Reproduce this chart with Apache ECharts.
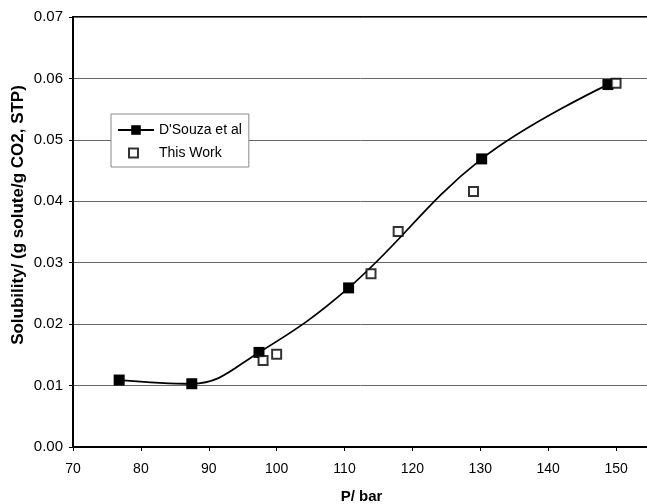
<!DOCTYPE html>
<html>
<head>
<meta charset="utf-8">
<script src="https://cdn.jsdelivr.net/npm/echarts@6/dist/echarts.min.js"></script>
<style>html,body{margin:0;padding:0;background:#fff;}#c{width:647px;height:504px;}</style>
</head>
<body>
<div id="c"></div>
<script>
const dsouzaP = [76.8, 87.5, 97.4, 110.6, 130.2, 148.8];
const dsouzaS = [0.0109, 0.0103, 0.0154, 0.0259, 0.0469, 0.0590];
const thisWorkP = [98.0, 100.0, 113.9, 117.9, 129.0, 150.0];
const thisWorkS = [0.0141, 0.0151, 0.0282, 0.0351, 0.0416, 0.0592];
const xTicks = [70, 80, 90, 100, 110, 120, 130, 140, 150];
const yTicks = [0, 0.01, 0.02, 0.03, 0.04, 0.05, 0.06, 0.07];

const font = 'Liberation Sans, Arial, sans-serif';
const chart = echarts.init(document.getElementById('c'), null, {renderer: 'canvas'});
chart.setOption({
  animation: false,
  backgroundColor: '#fff',
  textStyle: {fontFamily: font, color: '#000'},
  grid: {left: 73, top: 17, right: -3, bottom: 57, show: true, borderColor: '#000', borderWidth: 2,
    backgroundColor: 'transparent', containLabel: false, outerBoundsMode: 'none'},
  legend: {
    orient: 'vertical', left: 111, top: 114,
    backgroundColor: '#fff', borderColor: '#888', borderWidth: 1,
    padding: [9, 7, 7, 6], itemGap: 9, itemWidth: 36, itemHeight: 12,
    textStyle: {fontFamily: font, fontSize: 14, color: '#000'},
    data: [
      {name: "D'Souza et al"},
      {name: 'This Work', icon: 'path://M0,0L0,0M36,12L36,12M11,1.5L20,1.5L20,10.5L11,10.5Z',
       itemStyle: {color: '#fff', borderColor: '#000', borderWidth: 2}}
    ]
  },
  xAxis: {
    type: 'value', min: 70, max: 155, interval: 10,
    name: 'P/ bar', nameLocation: 'middle', nameGap: 42, nameMoveOverlap: false,
    nameTextStyle: {fontFamily: font, fontSize: 15, fontWeight: 'bold', color: '#000'},
    axisLine: {show: true, onZero: false, lineStyle: {color: '#000', width: 2}},
    axisTick: {show: true, inside: false, length: 4, lineStyle: {color: '#000', width: 1}},
    axisLabel: {fontFamily: font, fontSize: 14, color: '#000', margin: 15,
      formatter: v => xTicks.includes(v) ? String(v) : ''},
    splitLine: {show: false}
  },
  yAxis: {
    type: 'value', min: 0, max: 0.07, interval: 0.01,
    name: 'Solubility/ (g solute/g CO2, STP)', nameLocation: 'middle', nameGap: 46, nameMoveOverlap: false,
    nameTextStyle: {fontFamily: font, fontSize: 17, fontWeight: 'bold', color: '#000', padding: [0, 0, 0, 34]},
    axisLine: {show: true, onZero: false, lineStyle: {color: '#000', width: 2}},
    axisTick: {show: true, inside: false, length: 4, lineStyle: {color: '#000', width: 1}},
    axisLabel: {fontFamily: font, fontSize: 15, color: '#000', margin: 10,
      formatter: v => { const t = yTicks.find(y => Math.abs(y - v) < 1e-9); return t === undefined ? '' : t.toFixed(2); }},
    splitLine: {show: true, lineStyle: {color: '#666', width: 1}}
  },
  series: [
    {
      name: "D'Souza et al", type: 'line', smooth: 0.4,
      data: dsouzaP.map((p, i) => [p, dsouzaS[i]]),
      symbol: 'rect', symbolSize: 11, showSymbol: true,
      lineStyle: {color: '#000', width: 1.8},
      itemStyle: {color: '#000', borderWidth: 0},
      z: 3
    },
    {
      name: 'This Work', type: 'scatter',
      data: thisWorkP.map((p, i) => [p, thisWorkS[i]]),
      symbol: 'rect', symbolSize: 9,
      itemStyle: {color: '#fff', borderColor: '#000', borderWidth: 2},
      z: 4
    }
  ]
});
</script>
</body>
</html>
